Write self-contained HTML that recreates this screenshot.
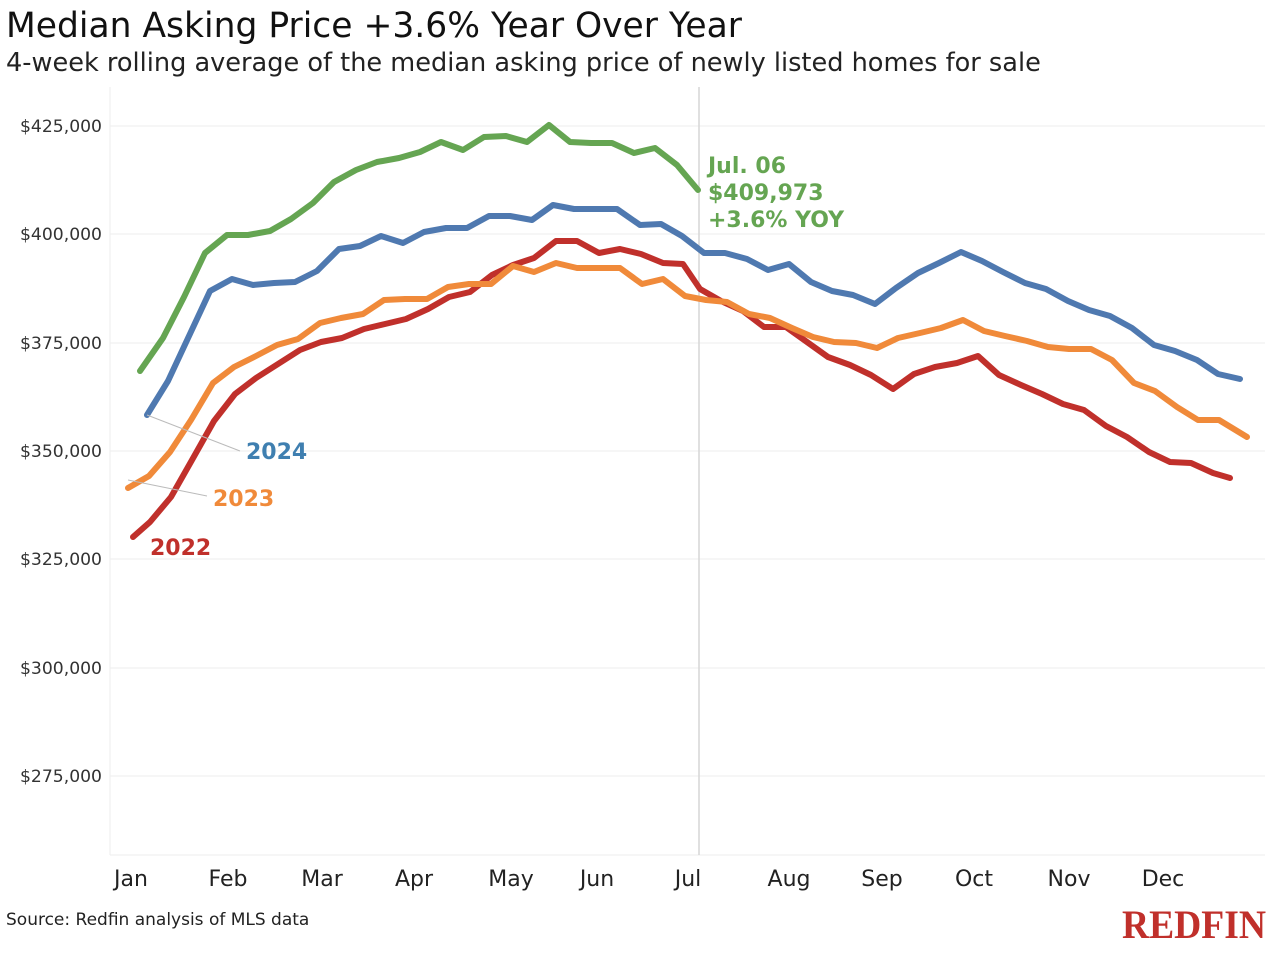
<!DOCTYPE html>
<html><head><meta charset="utf-8"><style>
html,body{margin:0;padding:0;background:#fff;}
svg{display:block;font-family:"DejaVu Sans","Liberation Sans",sans-serif;}
</style></head><body>
<svg width="1280" height="955" viewBox="0 0 1280 955" xmlns="http://www.w3.org/2000/svg">
<rect width="1280" height="955" fill="#fff"/>
<text x="6" y="37" font-size="34.5" fill="#111">Median Asking Price +3.6% Year Over Year</text>
<text x="6" y="71" font-size="25.6" fill="#222">4-week rolling average of the median asking price of newly listed homes for sale</text>
<g stroke="#eeeeee" stroke-width="1">
<line x1="110" y1="126" x2="1265" y2="126"/><line x1="110" y1="234" x2="1265" y2="234"/>
<line x1="110" y1="343" x2="1265" y2="343"/><line x1="110" y1="451" x2="1265" y2="451"/>
<line x1="110" y1="559" x2="1265" y2="559"/><line x1="110" y1="668" x2="1265" y2="668"/>
<line x1="110" y1="776" x2="1265" y2="776"/>
</g>
<line x1="110" y1="87" x2="110" y2="855" stroke="#eee"/>
<line x1="110" y1="855" x2="1265" y2="855" stroke="#eee"/>
<line x1="699" y1="87" x2="699" y2="855" stroke="#d6d6d6" stroke-width="1.5"/>
<g font-size="17.2" fill="#333" text-anchor="end">
<text x="102" y="132">$425,000</text><text x="102" y="240">$400,000</text>
<text x="102" y="349">$375,000</text><text x="102" y="457">$350,000</text>
<text x="102" y="565">$325,000</text><text x="102" y="674">$300,000</text>
<text x="102" y="782">$275,000</text>
</g>
<g font-size="22" fill="#222" text-anchor="middle">
<text x="131" y="886">Jan</text><text x="228" y="886">Feb</text><text x="322" y="886">Mar</text>
<text x="414" y="886">Apr</text><text x="511" y="886">May</text><text x="597" y="886">Jun</text>
<text x="688" y="886">Jul</text><text x="789" y="886">Aug</text><text x="882" y="886">Sep</text>
<text x="974" y="886">Oct</text><text x="1069" y="886">Nov</text><text x="1163" y="886">Dec</text>
</g>
<g fill="none" stroke-width="6" stroke-linejoin="round" stroke-linecap="round">
<polyline stroke="#c0302b" points="133,537 150,522 171,497 192,460 214,421 235,394 256,378 278,364 300,350 321,342 342,338 364,329 385,324 406,319 428,309 449,297 470,292 492,275 513,265 534,258 556,241 577,241 599,253 620,249 641,254 663,263 683,264 700,289 721,301 743,311 764,327 786,327 807,342 828,357 850,365 871,375 893,389 914,374 935,367 957,363 978,356 999,375 1021,385 1042,394 1063,404 1084,410 1106,426 1127,437 1149,452 1170,462 1191,463 1213,473 1230,478"/>
<polyline stroke="#f08a3a" points="128,488 149,476 170,452 191,420 213,383 234,367 256,356 277,345 298,339 320,323 341,318 363,314 384,300 405,299 427,299 448,287 469,284 491,284 513,266 534,272 556,263 577,268 599,268 620,268 642,284 663,279 685,296 706,300 727,302 749,314 770,318 792,328 813,337 834,342 856,343 877,348 898,338 920,333 941,328 963,320 984,331 1005,336 1027,341 1048,347 1069,349 1091,349 1112,360 1134,383 1155,391 1177,407 1198,420 1219,420 1247,437"/>
<polyline stroke="#4f79b0" points="147,415 168,381 189,336 210,291 232,279 253,285 274,283 295,282 317,271 339,249 360,246 381,236 403,243 424,232 446,228 467,228 489,216 510,216 532,220 553,205 574,209 596,209 617,209 640,225 661,224 682,236 704,253 725,253 747,259 768,270 789,264 811,282 832,291 853,295 875,304 896,288 918,273 939,263 961,252 982,261 1003,272 1025,283 1046,289 1068,301 1089,310 1110,316 1132,328 1154,345 1175,351 1197,360 1218,374 1240,379"/>
<polyline stroke="#65a552" points="140,371 163,338 184,297 205,253 227,235 248,235 270,231 291,219 313,203 334,182 356,170 377,162 399,158 420,152 441,142 463,150 484,137 506,136 527,142 549,125 570,142 591,143 612,143 634,153 655,148 677,165 698,190"/>
</g>
<g stroke="#bbb" stroke-width="1">
<line x1="147" y1="415" x2="240" y2="451"/><line x1="128" y1="480" x2="207" y2="496"/>
</g>
<g font-size="22" font-weight="bold">
<text x="246" y="459" fill="#3f7fb0">2024</text>
<text x="213" y="506" fill="#f08a3a">2023</text>
<text x="150" y="555" fill="#c0302b">2022</text>
<g fill="#65a552"><text x="708" y="173">Jul. 06</text><text x="708" y="200">$409,973</text><text x="708" y="227">+3.6% YOY</text></g>
</g>
<text x="6" y="925" font-size="17" fill="#222">Source: Redfin analysis of MLS data</text>
<text x="1266" y="938" font-size="40" font-weight="bold" fill="#c0302b" text-anchor="end" font-family="Liberation Serif,serif" textLength="144" lengthAdjust="spacingAndGlyphs">REDFIN</text>
</svg>
</body></html>
